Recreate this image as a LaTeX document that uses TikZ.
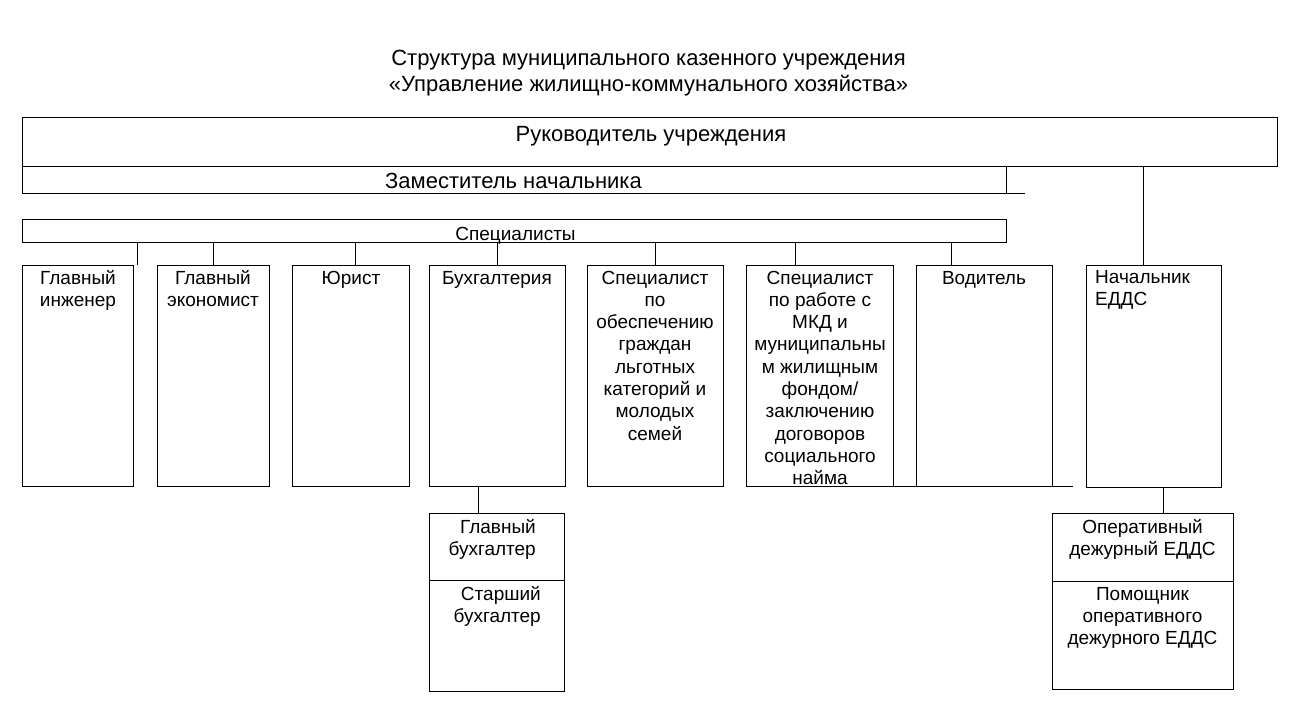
\documentclass[tikz,border=0pt]{standalone}
\usepackage{fontspec}
\setmainfont{Liberation Sans}
\begin{document}
\begin{tikzpicture}[x=1pt,y=-1pt,
  box/.style={draw=black, line width=1pt, rectangle, inner sep=0pt, outer sep=0pt, anchor=north west},
  big/.style={font=\fontsize{22}{26}\selectfont, inner sep=0pt, anchor=base},
  mid/.style={font=\fontsize{19}{22.3}\selectfont, inner sep=0pt, anchor=base},
  txt/.style={font=\fontsize{19}{22.3}\selectfont, inner sep=0pt, align=center, anchor=north},
  link/.style={draw=black, line width=1pt}
]
\useasboundingbox[fill=white] (0,0) rectangle (1304,725);

% title
\node[big] (t1) at (648.5,66) {Структура муниципального казенного учреждения};
\node[big] (t2) at (648.5,92) {«Управление жилищно-коммунального хозяйства»};

% top level
\node[box, minimum width=1255pt, minimum height=49pt] (rk) at (22,117.5) {};
\node[big] (rkt) at (651,141) {Руководитель учреждения};
\node[box, minimum width=984pt, minimum height=26.5pt] (dz) at (22,166.5) {};
\node[big] (dzt) at (513.5,188) {Заместитель начальника};
\coordinate (dzEnd) at ([xshift=19pt]dz.south east);

\node[box, minimum width=984pt, minimum height=23pt] (sp) at (22,219.5) {};
\node[mid] (spt) at (515.5,240) {Специалисты};

% second row
\node[box, minimum width=111.5pt, minimum height=221.5pt] (b1) at (22,265) {};
\node[box, minimum width=112.5pt, minimum height=221.5pt] (b2) at (157,265) {};
\node[box, minimum width=117pt, minimum height=221.5pt] (b3) at (292.5,265) {};
\node[box, minimum width=136pt, minimum height=221.5pt] (b4) at (429,265) {};
\node[box, minimum width=136pt, minimum height=221.5pt] (b5) at (587,265) {};
\node[box, minimum width=147pt, minimum height=221.5pt] (b6) at (746,265) {};
\node[box, minimum width=136pt, minimum height=221.5pt] (b7) at (916,265) {};
\node[box, minimum width=134.5pt, minimum height=222pt] (ne) at (1086.5,265) {};
\coordinate (b7end) at ([xshift=21pt]b7.south east);

\node[txt] (b1t) at (78,268.2) {\strut Главный\\инженер};
\node[txt] (b2t) at (213,268.2) {\strut Главный\\экономист};
\node[txt] (b3t) at (351,268.2) {\strut Юрист};
\node[txt] (b4t) at (497,268.2) {\strut Бухгалтерия};
\node[txt] (b5t) at (655,268.2) {\strut Специалист\\по\\обеспечению\\граждан\\льготных\\категорий и\\молодых\\семей};
\node[txt] (b6t) at (820,268.2) {\strut Специалист\\по работе с\\МКД и\\муниципальны\\м жилищным\\фондом/\\заключению\\договоров\\социального\\найма};
\node[txt] (b7t) at (984,268.2) {\strut Водитель};
\node[txt, align=left, anchor=north west] (net) at (1095,267.4) {\strut Начальник\\ЕДДС};

% accounting
\node[box, minimum width=135.5pt, minimum height=67pt] (gb) at (429,513) {};
\node[box, minimum width=135.5pt, minimum height=111pt] (sb) at (429,580) {};
\node[txt, align=right, anchor=north east] (gbt) at (536,517.4) {\strut Главный\\бухгалтер};
\node[txt, align=right, anchor=north east] (sbt) at (541,584.4) {\strut Старший\\бухгалтер};

% EDDS
\node[box, minimum width=181pt, minimum height=68pt] (ob) at (1052,513) {};
\node[box, minimum width=181pt, minimum height=108pt] (pom) at (1052,581) {};
\node[txt] (obt) at (1142.5,517.4) {\strut Оперативный\\дежурный ЕДДС};
\node[txt] (pomt) at (1142.5,584.4) {\strut Помощник\\оперативного\\дежурного ЕДДС};

% connectors
\draw[link] (dz.south east) -- (dzEnd);
\draw[link] (b6.south east) -- (b7.south west);
\draw[link] (b7.south east) -- (b7end);
\draw[link] ([xshift=3.5pt]b1.north east) -- ([xshift=3.5pt]b1.north east |- sp.south);
\draw[link] (b2.north) -- (b2.north |- sp.south);
\draw[link] ([xshift=4pt]b3.north) -- ([xshift=4pt]b3.north |- sp.south);
\draw[link] (b4.north) -- (b4.north |- sp.south);
\draw[link] (b5.north) -- (b5.north |- sp.south);
\draw[link] ([xshift=-24.5pt]b6.north) -- ([xshift=-24.5pt]b6.north |- sp.south);
\draw[link] ([xshift=-33pt]b7.north) -- ([xshift=-33pt]b7.north |- sp.south);
\draw[link] ([xshift=-10.75pt]ne.north) -- ([xshift=-10.75pt]ne.north |- rk.south);
\draw[link] ([xshift=-19pt]b4.south) -- ([xshift=-19pt]b4.south |- gb.north);
\draw[link] ([xshift=10pt]ne.south) -- ([xshift=10pt]ne.south |- ob.north);
\end{tikzpicture}
\end{document}
